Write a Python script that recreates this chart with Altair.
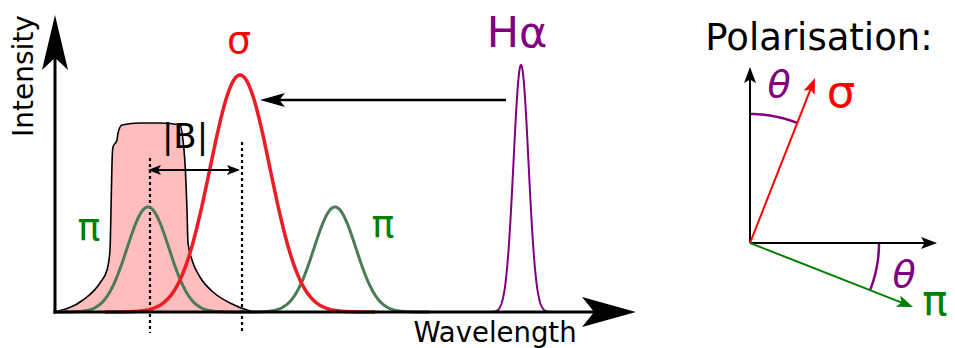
import numpy as np
import pandas as pd
import altair as alt

FONT = "DejaVu Sans"
W, H = 955, 348

# Drawing frame: wavelength runs right from the intensity axis, intensity up from the baseline.
X_DOMAIN = [-55, 900]
Y_DOMAIN = [-36, 312]

# Spectral lines: centre, peak height, width (sigma), colour, stroke width
line_names = ["pi_left", "sigma", "pi_right", "h_alpha"]
line_centres = [93, 185, 280, 466]
line_peaks = [105, 237, 105, 247]
line_sigmas = [21, 30, 21, 7.5]
line_colours = ["#4b7b57", "#ee1c25", "#4b7b57", "#800080"]
line_strokes = [3, 3.5, 3, 2]

# Filter transmission profile
filter_wl = [0, 28, 45, 52, 55, 56, 57, 58, 62, 63, 67, 85, 105, 125, 128, 130,
             132, 133, 137, 145, 158, 175, 192, 200]
filter_int = [0, 12, 29, 42, 62, 102, 149, 165, 172, 179, 187, 189, 189, 187, 172, 149,
              102, 69, 52, 35, 20, 9, 2, 0]

# Straight strokes: x, y, x2, y2, colour, width
seg_x = [0, -1.5, 451, 95, 695, 695]
seg_y = [-1.5, 0, 212, 142, 69, 69]
seg_x2 = [0, 540, 215, 183, 695, 874]
seg_y2 = [256, 0, 212, 142, 237, 69]
seg_col = ["black", "black", "black", "black", "black", "black"]
seg_w = [3, 3, 2.5, 2, 2, 2]

# Dotted guides at the shifted line centres
guide_x = [95, 187]
guide_top = [154, 170]
guide_bottom = [-21, -21]

# Polarisation vectors from the common origin: tip x, tip y, colour
pol_origin = (695, 69)
pol_tip_x = [760, 858]
pol_tip_y = [234, 5]
pol_col = ["#ff0000", "#008000"]

# Arrowheads: tip x, tip y, direction (deg clockwise from up), length, width, colour
head_x = [0, 581, 205, 93, 185, 695, 882, 760, 858]
head_y = [297, 0, 212, 142, 142, 245, 69, 234, 5]
head_dir = [0, 90, 270, 270, 90, 0, 90, 21.5, 111.4]
head_len = [55, 54, 25, 13, 13, 16, 16, 16, 16]
head_wid = [26, 30, 14, 10, 10, 12, 12, 12, 12]
head_col = ["black"] * 7 + ["#ff0000", "#008000"]

# Angle arcs between the axes and the polarisation vectors
theta_deg = 21.5
arc_radius = 129

# Labels: text, x, y, font size, colour, angle
lab_text = ["Intensity", "Wavelength", "σ", "π", "π", "Hα", "Polarisation:", "σ", "π", "|B|"]
lab_x = [-22, 440, 184, 34, 328, 462, 764, 786, 880, 130]
lab_y = [236, -30, 259, 72, 75, 265, 262, 205, -3, 164]
lab_size = [28, 27.5, 38, 38, 38, 43, 37, 45, 42, 34]
lab_col = ["black", "black", "#ff0000", "#008000", "#008000", "#800080", "black",
           "#ff0000", "#008000", "black"]
lab_angle = [270, 0, 0, 0, 0, 0, 0, 0, 0, 0]

theta_x = [724, 849]
theta_y = [215, 25]

xs = alt.Scale(domain=X_DOMAIN, nice=False, zero=False)
ys = alt.Scale(domain=Y_DOMAIN, nice=False, zero=False)


def X(f="x"):
    return alt.X(f"{f}:Q", scale=xs, axis=None)


def Y(f="y"):
    return alt.Y(f"{f}:Q", scale=ys, axis=None)


# Filter band
filt = pd.DataFrame({"x": filter_wl, "y": filter_int, "y0": 0})
filter_layer = alt.Chart(filt).mark_area(
    interpolate="monotone", fill="#ffbdbd", stroke="black", strokeWidth=1.6
).encode(x=X(), y=Y(), y2=alt.Y2("y0:Q"))

# Dotted guides
guides = pd.DataFrame({"x": guide_x, "y": guide_top, "y2": guide_bottom})
guide_layer = alt.Chart(guides).mark_rule(
    color="black", strokeWidth=2.2, strokeDash=[3, 3]
).encode(x=X(), y=Y(), y2=alt.Y2("y2:Q"))

# Spectral line profiles
line_layers = []
for name, c, a, s, col, sw in zip(line_names, line_centres, line_peaks, line_sigmas,
                                  line_colours, line_strokes):
    wl = np.linspace(c - 4.5 * s, c + 4.5 * s, 241)
    df = pd.DataFrame({"x": wl, "y": a * np.exp(-0.5 * ((wl - c) / s) ** 2)})
    line_layers.append(
        alt.Chart(df).mark_line(color=col, strokeWidth=sw).encode(x=X(), y=Y(), order="x:Q")
    )
# draw the green components first, the sigma line over them
line_layers = [line_layers[0], line_layers[2], line_layers[1], line_layers[3]]

# Straight strokes, including polarisation vectors that stop inside their heads
sx, sy, sx2, sy2 = list(seg_x), list(seg_y), list(seg_x2), list(seg_y2)
scol, sw = list(seg_col), list(seg_w)
for tx, ty, col in zip(pol_tip_x, pol_tip_y, pol_col):
    dx, dy = tx - pol_origin[0], ty - pol_origin[1]
    n = np.hypot(dx, dy)
    sx.append(pol_origin[0]); sy.append(pol_origin[1])
    sx2.append(tx - 8 * dx / n); sy2.append(ty - 8 * dy / n)
    scol.append(col); sw.append(2)
segs = pd.DataFrame({"x": sx, "y": sy, "x2": sx2, "y2": sy2, "c": scol, "w": sw})
seg_layer = alt.Chart(segs).mark_rule(strokeCap="butt").encode(
    x=X(), y=Y(), x2=alt.X2("x2:Q"), y2=alt.Y2("y2:Q"),
    color=alt.Color("c:N", scale=None),
    strokeWidth=alt.StrokeWidth("w:Q", scale=None),
)

# Arrowheads as notched triangles pointing up, rotated into place
rad = np.radians(head_dir)
heads = pd.DataFrame({
    "x": np.array(head_x) - 0.5 * np.array(head_len) * np.sin(rad),
    "y": np.array(head_y) - 0.5 * np.array(head_len) * np.cos(rad),
    "angle": head_dir,
    "size": np.array(head_len, dtype=float) ** 2,
    "path": [f"M0,-1L{w / l:.3f},1L0,0.55L{-w / l:.3f},1Z" for l, w in zip(head_len, head_wid)],
    "c": head_col,
})
head_layer = alt.Chart(heads).mark_point(filled=True, opacity=1, strokeWidth=0).encode(
    x=X(), y=Y(),
    shape=alt.Shape("path:N", scale=None),
    size=alt.Size("size:Q", scale=None),
    angle=alt.Angle("angle:Q", scale=None),
    color=alt.Color("c:N", scale=None),
)

# Angle arcs
t = np.radians(np.linspace(0, theta_deg, 40))
arc_top = pd.DataFrame({"x": pol_origin[0] + arc_radius * np.sin(t),
                        "y": pol_origin[1] + arc_radius * np.cos(t), "k": "top"})
arc_bot = pd.DataFrame({"x": pol_origin[0] + arc_radius * np.cos(t),
                        "y": pol_origin[1] - arc_radius * np.sin(t), "k": "bottom"})
arcs = pd.concat([arc_top, arc_bot]).reset_index(drop=True)
arcs["i"] = arcs.index
arc_layer = alt.Chart(arcs).mark_line(color="#800080", strokeWidth=2.5).encode(
    x=X(), y=Y(), detail="k:N", order="i:Q"
)

# Labels
labels = pd.DataFrame({"t": lab_text, "x": lab_x, "y": lab_y, "s": lab_size,
                       "c": lab_col, "a": lab_angle})
label_layer = alt.Chart(labels).mark_text(
    font=FONT, align="center", baseline="alphabetic"
).encode(
    x=X(), y=Y(), text="t:N",
    size=alt.Size("s:Q", scale=None),
    color=alt.Color("c:N", scale=None),
    angle=alt.Angle("a:Q", scale=None),
)

thetas = pd.DataFrame({"t": ["θ", "θ"], "x": theta_x, "y": theta_y})
theta_layer = alt.Chart(thetas).mark_text(
    font=FONT, fontStyle="italic", fontSize=38, color="#800080",
    align="center", baseline="alphabetic"
).encode(x=X(), y=Y(), text="t:N")

chart = alt.layer(
    filter_layer, guide_layer, *line_layers, arc_layer, seg_layer, head_layer,
    label_layer, theta_layer,
).properties(
    width=W, height=H, padding=0,
    autosize=alt.AutoSizeParams(type="none"),
    background="white",
).configure_view(stroke=None)

chart.save("out.html", embed_options={"renderer": "svg", "actions": False})
